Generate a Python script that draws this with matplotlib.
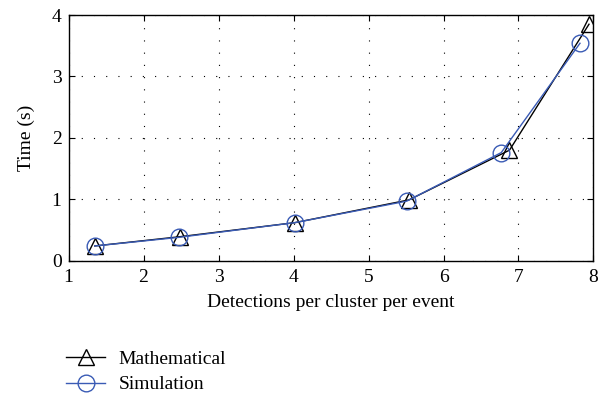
import matplotlib
matplotlib.use("Agg")
import matplotlib.pyplot as plt

plt.rcParams['font.family'] = ['Liberation Serif', 'DejaVu Serif']

# Detection counts and processing times
math_x = [1.35, 2.48, 4.02, 5.54, 6.88, 7.94]
math_y = [0.24, 0.39, 0.62, 0.99, 1.80, 3.85]
sim_x = [1.35, 2.47, 4.02, 5.51, 6.77, 7.82]
sim_y = [0.24, 0.38, 0.62, 0.97, 1.76, 3.54]

x_ticks = [1, 2, 3, 4, 5, 6, 7, 8]
y_ticks = [0, 1, 2, 3, 4]

fig = plt.figure(figsize=(6.14, 3.99), dpi=100)
ax = fig.add_axes([0.1116, 0.3466, 0.855, 0.6158])

blue = '#3a5bb5'
ax.plot(math_x, math_y, color='black', lw=1.0, marker='^', ms=12,
        mfc='none', mec='black', mew=1.0, label='Mathematical')
ax.plot(sim_x, sim_y, color=blue, lw=1.0, marker='o', ms=12,
        mfc='none', mec=blue, mew=1.0, label='Simulation')

ax.set_xlim(1, 8)
ax.set_ylim(0, 4)
ax.set_xticks(x_ticks)
ax.set_yticks(y_ticks)
ax.grid(True, color='black', linestyle=(0, (1, 10)), linewidth=0.8)
ax.tick_params(direction='in', top=True, right=True, length=4,
               labelsize=14, pad=5)
ax.tick_params(axis='x', pad=6)
for s in ax.spines.values():
    s.set_linewidth(1.0)

ax.set_xlabel('Detections per cluster per event', fontsize=14, labelpad=6)
ax.set_ylabel('Time (s)', fontsize=14, labelpad=12)

fig.legend(loc='upper left', bbox_to_anchor=(0.108, 0.122), frameon=False,
           fontsize=14, handlelength=2.0, handletextpad=0.7,
           labelspacing=0.4, borderaxespad=0, borderpad=0)

fig.savefig('out.png', dpi=100)
